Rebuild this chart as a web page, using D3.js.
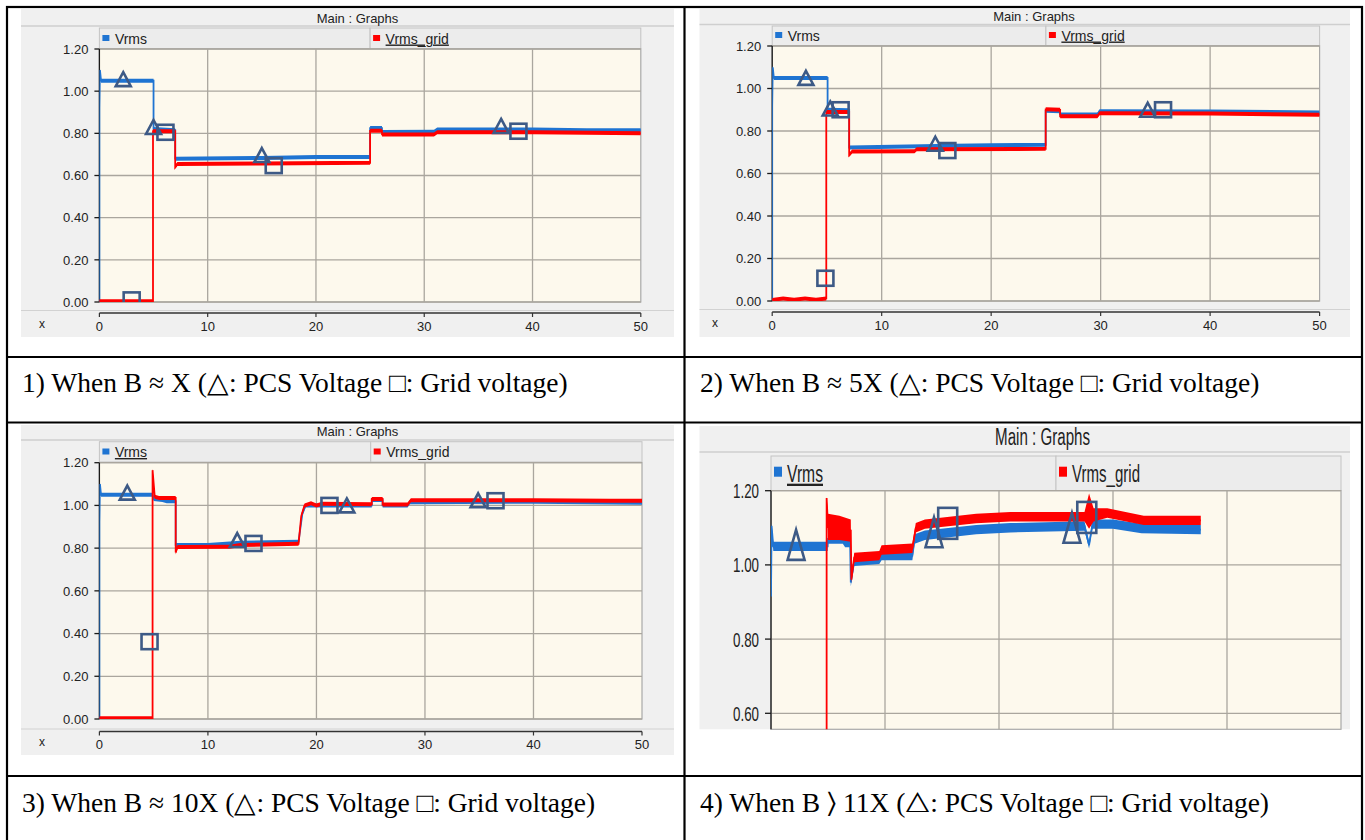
<!DOCTYPE html>
<meta charset="utf-8">
<style>
body { margin: 0; background: #fff; }
svg text { font-family: "Liberation Sans", Arial, sans-serif; fill: #222; }
.caption { font-family: "Liberation Serif", "Times New Roman", serif; font-size: 27.5px; fill: #000; }
</style>
<svg width="1365" height="840"></svg>
<script src="https://d3js.org/d3.v7.min.js"></script>
<script>

// ---- data ----
var xTicks = [0, 10, 20, 30, 40, 50];
var yTicks = [0, 0.2, 0.4, 0.6, 0.8, 1.0, 1.2];
var yTicks4 = [0.6, 0.8, 1.0, 1.2];
var seriesNames = ["Vrms", "Vrms_grid"];
var captions = [
  "1) When B \u2248 X (\u25B3: PCS Voltage \u25A1: Grid voltage)",
  "2) When B \u2248 5X (\u25B3: PCS Voltage \u25A1: Grid voltage)",
  "3) When B \u2248 10X (\u25B3: PCS Voltage \u25A1: Grid voltage)",
  "4) When B \u232A 11X (\u25B3: PCS Voltage \u25A1: Grid voltage)"
];

// panel 1 : B ~ X   [time, value]
var vrms1 = [[0,0],[0,0.92],[0.05,1.10],[0.15,1.05],[5.0,1.05],[5.0,0.82],[7.0,0.815],[7.0,0.68],[15,0.683],[20,0.688],[25.0,0.688],
  [25.0,0.825],[26.1,0.825],[26.1,0.806],[30.9,0.808],[31.2,0.818],[40,0.818],[45,0.815],[50,0.815]];
var grid1 = [[0,0.004],[4.95,0.004],[4.95,0.81],[7.0,0.81],[7.0,0.64],[7.2,0.655],[15,0.657],[25.0,0.66],[25.0,0.812],[26.1,0.812],
  [26.1,0.795],[30.9,0.795],[31.2,0.805],[40,0.805],[50,0.80]];
var tri1 = [[2.2,1.057],[5.0,0.83],[15.0,0.697],[37.1,0.835]];
var sq1 = [[2.98,0.01],[6.1,0.805],[16.1,0.647],[38.7,0.81]];

// panel 2 : B ~ 5X
var vrms2 = [[0,0],[0,0.92],[0.05,1.10],[0.15,1.05],[5.06,1.05],[5.06,0.90],[7.03,0.898],[7.03,0.722],[15,0.73],[20,0.733],[24.98,0.735],
  [24.98,0.895],[26.3,0.893],[26.3,0.878],[29.7,0.878],[29.9,0.893],[40,0.892],[50,0.887]];
var grid2 = [[0,0.005],[1,0.012],[2,0.006],[3,0.012],[4,0.006],[4.94,0.012],[4.94,0.89],[7.03,0.89],[7.03,0.687],[7.3,0.703],[13,0.705],
  [13.2,0.714],[24.98,0.716],[24.98,0.902],[26.3,0.90],[26.3,0.869],[29.7,0.869],[29.9,0.883],[40,0.882],[50,0.876]];
var tri2 = [[3.08,1.05],[5.3,0.906],[14.9,0.74],[34.3,0.90]];
var sq2 = [[4.86,0.107],[6.25,0.90],[16.0,0.708],[35.7,0.90]];

// panel 3 : B ~ 10X
var vrms3 = [[0,0],[0,0.92],[0.05,1.10],[0.15,1.05],[4.9,1.05],[5.0,1.03],[5.8,1.025],[6.2,1.02],[7.03,1.02],[7.03,0.815],[10,0.815],
  [13,0.825],[18.35,0.83],[18.7,0.96],[19.0,1.0],[25.1,1.0],[25.1,1.025],[26.1,1.025],[26.1,1.0],[28.4,1.0],[28.6,1.015],[40,1.017],
  [45,1.015],[50,1.012]];
var grid3 = [[0,0.003],[4.9,0.003],[4.9,1.165],[5.1,1.04],[5.5,1.035],[7.03,1.035],[7.03,0.78],[7.2,0.805],[12,0.807],[13,0.815],
  [18.35,0.82],[18.6,0.95],[18.9,1.0],[19.5,1.01],[20,1.0],[20.5,1.008],[25.1,1.006],[25.1,1.03],[26.1,1.03],[26.1,1.004],[28.4,1.004],
  [28.7,1.024],[40,1.024],[47,1.022],[50,1.022]];
var tri3 = [[2.57,1.06],[12.7,0.838],[22.8,1.0],[34.9,1.024]];
var sq3 = [[4.62,0.362],[14.2,0.822],[21.2,1.0],[36.5,1.022]];

// panel 4 : B > 11X   noisy traces, [time, low, high]
var vrms4 = [[0,0.915,0.915],[0.05,1.10,1.11],[0.2,1.04,1.06],[4.97,1.04,1.06],[5.0,1.06,1.08],[6.3,1.06,1.08],[6.5,1.05,1.07],
  [6.94,1.05,1.07],[7.0,0.945,0.96],[7.3,1.00,1.02],[9.5,1.005,1.025],[9.7,1.015,1.033],[12.4,1.015,1.035],[12.6,1.06,1.08],
  [13.5,1.07,1.09],[18,1.085,1.105],[21,1.09,1.11],[27.5,1.095,1.115],[27.9,1.047,1.06],[28.2,1.10,1.12],[30,1.10,1.12],
  [32.5,1.088,1.108],[37.7,1.085,1.105]];
var grid4 = [[4.88,0.4,0.4],[4.88,1.18,1.18],[5.0,1.07,1.135],[6.0,1.07,1.13],[7.0,1.065,1.12],[7.05,0.955,0.965],[7.3,1.01,1.03],
  [9.5,1.015,1.035],[9.7,1.03,1.05],[12.4,1.035,1.055],[12.7,1.09,1.11],[13.5,1.10,1.12],[18,1.115,1.135],[21,1.12,1.14],
  [27.5,1.12,1.14],[27.9,1.10,1.19],[28.3,1.12,1.15],[29.5,1.13,1.15],[32.7,1.11,1.13],[37.7,1.11,1.13]];
var tri4 = [[2.2,1.054],[14.3,1.088],[26.4,1.10]];
var sq4 = [[15.5,1.112],[27.7,1.128]];

// ---- layout ----
var blue = "#1f74d2", red = "#ff0000", mark = "#3d5a86";

var panels = [
  {bg:[21,9,674,337], head:26, titleX:357.5, titleY:22.5, leg:[28,48.5], plot:[99.4,640.8,49,302], clipB:302,
   dom:[0,1.2], yt:yTicks, axisY:313, labY:331, xLab:42, v:vrms1, g:grid1, tri:tri1, sq:sq1, ul:1, big:false},
  {bg:[699.5,9,1350,337], head:24.5, titleX:1034, titleY:20.5, leg:[26,45.5], plot:[772.2,1319.6,46,301], clipB:301,
   dom:[0,1.2], yt:yTicks, axisY:312, labY:330, xLab:715, v:vrms2, g:grid2, tri:tri2, sq:sq2, ul:1, big:false},
  {bg:[21,425,674,755], head:440, titleX:357.5, titleY:436, leg:[441.7,462], plot:[99.4,642,462.7,719], clipB:719,
   dom:[0,1.2], yt:yTicks, axisY:731.5, labY:749, xLab:42, v:vrms3, g:grid3, tri:tri3, sq:sq3, ul:0, big:false},
  {bg:[699.5,426,1350,729.3], head:452, titleX:1042.6, titleY:445, leg:[456,490.5], plot:[771,1341,490.7,713.3], clipB:729.3,
   dom:[0.6,1.2], yt:yTicks4, axisY:null, v:vrms4, g:grid4, tri:tri4, sq:sq4, ul:0, big:true}
];

var svg = d3.select("svg");
var fmt = d3.format(".2f");

// table frame
var frame = svg.append("g").attr("stroke", "#000").attr("stroke-width", 2.2).attr("fill", "none");
frame.append("rect").attr("x", 7).attr("y", 7).attr("width", 1355).attr("height", 840);
[357, 422.5, 776].forEach(function(y) {
  frame.append("line").attr("x1", 7).attr("x2", 1362).attr("y1", y).attr("y2", y);
});
frame.append("line").attr("x1", 684.5).attr("x2", 684.5).attr("y1", 7).attr("y2", 845);

svg.selectAll(".caption").data(captions).enter().append("text")
    .attr("class", "caption")
    .attr("x", function(d, i) { return i % 2 ? 700 : 22; })
    .attr("y", function(d, i) { return i < 2 ? 392 : 812; })
    .text(function(d) { return d; });

panels.forEach(function(p, pi) {
  var g = svg.append("g");
  var L = p.plot[0], R = p.plot[1], T = p.plot[2], B = p.clipB;
  var mid = (L + R) / 2;

  var x = d3.scaleLinear().domain([0, 50]).range([L, R]);
  var y = d3.scaleLinear().domain(p.dom).range([p.plot[3], T]);

  // window background, header
  g.append("rect").attr("x", p.bg[0]).attr("y", p.bg[1])
      .attr("width", p.bg[2] - p.bg[0]).attr("height", p.bg[3] - p.bg[1]).attr("fill", "#f0f0f0");
  g.append("line").attr("x1", p.bg[0]).attr("x2", p.bg[2]).attr("y1", p.head).attr("y2", p.head)
      .attr("stroke", "#cfcfcf").attr("stroke-width", 1.5);

  var title = g.append("text").attr("x", p.titleX).attr("y", p.titleY)
      .attr("text-anchor", "middle").attr("font-size", p.big ? 23 : 13).text("Main : Graphs");
  if (p.big) title.attr("textLength", 95).attr("lengthAdjust", "spacingAndGlyphs");

  // legend bar
  [[L, mid], [mid, R]].forEach(function(c, k) {
    g.append("rect").attr("x", c[0]).attr("y", p.leg[0]).attr("width", c[1] - c[0]).attr("height", p.leg[1] - p.leg[0])
        .attr("fill", "#ececec").attr("stroke", "#c4c4c4").attr("stroke-width", 1);
    var sx = c[0] + 3, sw = p.big ? 8 : 7, sh = p.big ? 10 : 6;
    var sy = p.big ? p.leg[1] - 23.8 : p.leg[1] - 13.5;
    g.append("rect").attr("x", sx).attr("y", sy).attr("width", sw).attr("height", sh).attr("fill", k ? red : blue);
    var t = g.append("text").attr("x", c[0] + (p.big ? 16 : 15.5))
        .attr("y", p.big ? p.leg[1] - 8.8 : p.leg[1] - 5)
        .attr("font-size", p.big ? 23 : 14)
        .attr("text-decoration", k === p.ul ? "underline" : null)
        .text(seriesNames[k]);
    if (p.big) t.attr("textLength", k ? 68 : 36).attr("lengthAdjust", "spacingAndGlyphs");
  });

  // plot area
  g.append("rect").attr("x", L).attr("y", T).attr("width", R - L).attr("height", B - T)
      .attr("fill", "#fdf9ed").attr("stroke", "#a9a9a9").attr("stroke-width", 1.2);

  var grid = g.append("g").attr("stroke", "#aaa69e").attr("stroke-width", 1.3);
  grid.selectAll(".gx").data(xTicks.slice(1, -1)).enter().append("line")
      .attr("x1", x).attr("x2", x).attr("y1", T).attr("y2", B);
  grid.selectAll(".gy").data(p.yt).enter().append("line")
      .attr("x1", L).attr("x2", R).attr("y1", y).attr("y2", y);

  // y axis
  var ya = g.append("g").attr("stroke", "#1a1a1a").attr("stroke-width", 1.3);
  ya.append("line").attr("x1", L).attr("x2", L).attr("y1", T).attr("y2", B);
  ya.selectAll(".t").data(p.yt).enter().append("line")
      .attr("x1", L - (p.big ? 6 : 5)).attr("x2", L).attr("y1", y).attr("y2", y);
  g.selectAll(".yl").data(p.yt).enter().append("text")
      .attr("x", L - (p.big ? 12 : 11)).attr("y", y).attr("dy", "0.36em")
      .attr("text-anchor", "end").attr("font-size", p.big ? 21 : 13)
      .attr("textLength", p.big ? 26 : null).attr("lengthAdjust", p.big ? "spacingAndGlyphs" : null)
      .text(fmt);

  // x axis band
  if (p.axisY !== null) {
    g.append("line").attr("x1", p.bg[0]).attr("x2", p.bg[2]).attr("y1", p.axisY - 2.5).attr("y2", p.axisY - 2.5)
        .attr("stroke", "#d2d2d2").attr("stroke-width", 1.2);
    g.append("line").attr("x1", L).attr("x2", R).attr("y1", p.axisY).attr("y2", p.axisY)
        .attr("stroke", "#333").attr("stroke-width", 1.5);
    g.selectAll(".xt").data(xTicks).enter().append("line")
        .attr("x1", x).attr("x2", x).attr("y1", p.axisY).attr("y2", p.axisY + 4)
        .attr("stroke", "#333").attr("stroke-width", 1.2);
    g.selectAll(".xl").data(xTicks).enter().append("text")
        .attr("x", x).attr("y", p.labY).attr("text-anchor", "middle").attr("font-size", 13)
        .text(function(d) { return d; });
    g.append("text").attr("x", p.xLab).attr("y", p.labY - 3.5).attr("text-anchor", "middle")
        .attr("font-size", 12).text("x");
  }

  // traces
  var cid = "clip" + pi;
  g.append("clipPath").attr("id", cid).append("rect")
      .attr("x", L).attr("y", T - 20).attr("width", R - L).attr("height", B - T + 20);
  var plot = g.append("g").attr("clip-path", "url(#" + cid + ")");

  var pad = p.big ? 1 : 2;
  var lo = function(d) { return d[1]; };
  var hi = function(d) { return d.length > 2 ? d[2] : d[1]; };
  var band = d3.area()
      .x(function(d) { return x(d[0]); })
      .y0(function(d) { return y(lo(d)) + pad; })
      .y1(function(d) { return y(hi(d)) - pad; });
  var line = d3.line()
      .x(function(d) { return x(d[0]); })
      .y(function(d) { return y((lo(d) + hi(d)) / 2); });

  [[p.v, blue], [p.g, red]].forEach(function(s) {
    plot.append("path").attr("d", band(s[0])).attr("fill", s[1]);
    plot.append("path").attr("d", line(s[0])).attr("fill", "none")
        .attr("stroke", s[1]).attr("stroke-width", 1.8);
  });

  // markers
  var tw = p.big ? 17 : 15, th = p.big ? 30 : 14;
  var qw = p.big ? 19 : 16, qh = p.big ? 31 : 15;
  var mk = plot.append("g").attr("fill", "none").attr("stroke", mark).attr("stroke-width", 2.6);
  mk.selectAll(".tri").data(p.tri).enter().append("path")
      .attr("d", function(d) {
        var cx = x(d[0]), cy = y(d[1]);
        return "M" + cx + "," + (cy - th / 2) + "L" + (cx + tw / 2) + "," + (cy + th / 2)
             + "L" + (cx - tw / 2) + "," + (cy + th / 2) + "Z";
      });
  mk.selectAll(".sq").data(p.sq).enter().append("rect")
      .attr("x", function(d) { return x(d[0]) - qw / 2; })
      .attr("y", function(d) { return y(d[1]) - qh / 2; })
      .attr("width", qw).attr("height", qh);
});

</script>
